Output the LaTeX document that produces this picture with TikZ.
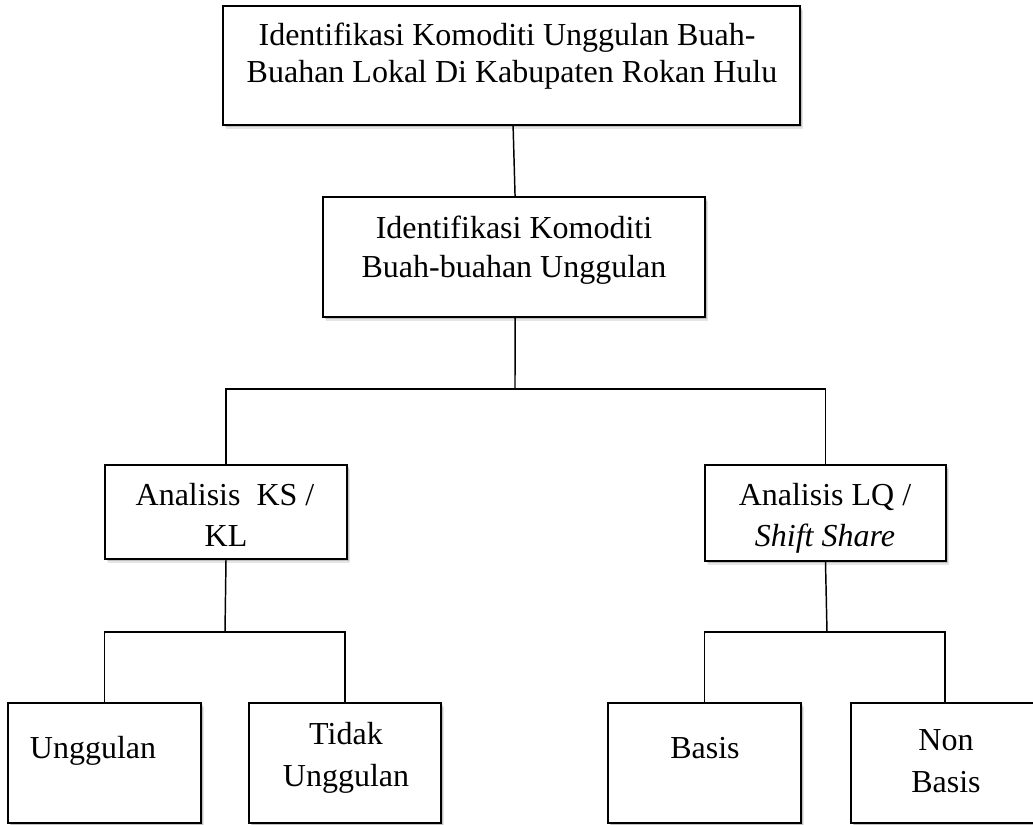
\documentclass[tikz,border=0pt]{standalone}
\usepackage{fontspec}
\setmainfont{Liberation Serif}
\usetikzlibrary{fit,shadows}
\begin{document}
\begin{tikzpicture}[x=0.75pt,y=-0.75pt,
  box/.style={draw=black, line width=1.3pt, fill=white, rectangle, inner sep=0pt,
    drop shadow={shadow xshift=2.6pt, shadow yshift=-2.8pt, opacity=0.10, fill=black},
    drop shadow={shadow xshift=1.4pt, shadow yshift=-1.6pt, opacity=0.16, fill=black}},
  txt/.style={anchor=base, inner sep=0pt, font=\fontsize{24}{28}\selectfont},
  conn/.style={draw=black, line width=1.1pt}]
\useasboundingbox (0,0) rectangle (1033,825);
\clip (0,0) rectangle (1033,825);
% boxes
\node[box, fit={(223,6) (800,125)}] (top) {};
\node[box, fit={(323,197) (705,317)}] (mid) {};
\node[box, fit={(105,465) (347,559)}] (ks) {};
\node[box, fit={(705,465) (946,561)}] (lq) {};
\node[box, fit={(8,703) (201,823)}] (ung) {};
\node[box, fit={(249,703) (441,823)}] (tdk) {};
\node[box, fit={(608,703) (801,823)}] (bas) {};
\node[box, fit={(851,703) (1039,823)}] (non) {};
% texts
\node[txt] (topa) at (507,45) {Identifikasi Komoditi Unggulan Buah-};
\node[txt] (topb) at (512,82) {Buahan Lokal Di Kabupaten Rokan Hulu};
\node[txt] (mida) at (514,238) {Identifikasi Komoditi};
\node[txt] (midb) at (514,277) {Buah-buahan Unggulan};
\node[txt] (ksa) at (225,505) {Analisis\ \ KS /};
\node[txt] (ksb) at (226,546) {KL};
\node[txt] (lqa) at (825,505) {Analisis LQ /};
\node[txt] (lqb) at (825,546) {\itshape Shift Share};
\node[txt] (unga) at (93,758) {Unggulan};
\node[txt] (tdka) at (346,744) {Tidak};
\node[txt] (tdkb) at (346,786) {Unggulan};
\node[txt] (basa) at (705,758) {Basis};
\node[txt] (nona) at (946,750) {Non};
\node[txt] (nonb) at (946,792) {Basis};
% junction coordinates
\coordinate (j1) at (515,389);
\coordinate (j2) at (225,632);
\coordinate (j3) at (827,632);
% connectors
\draw[conn] ([xshift=1.2pt]top.south) -- ([xshift=0.8pt]mid.north);
\draw[conn] ([xshift=0.8pt]mid.south) -- (j1);
\draw[conn] (ks.north) -- (ks.north |- j1) -- (lq.north |- j1) -- (lq.north);
\draw[conn] (ks.south) -- (j2);
\draw[conn] (ung.north) -- (ung.north |- j2) -- (tdk.north |- j2) -- (tdk.north);
\draw[conn] (lq.south) -- (j3);
\draw[conn] (bas.north) -- (bas.north |- j3) -- (non.north |- j3) -- (non.north);
\end{tikzpicture}
\end{document}
